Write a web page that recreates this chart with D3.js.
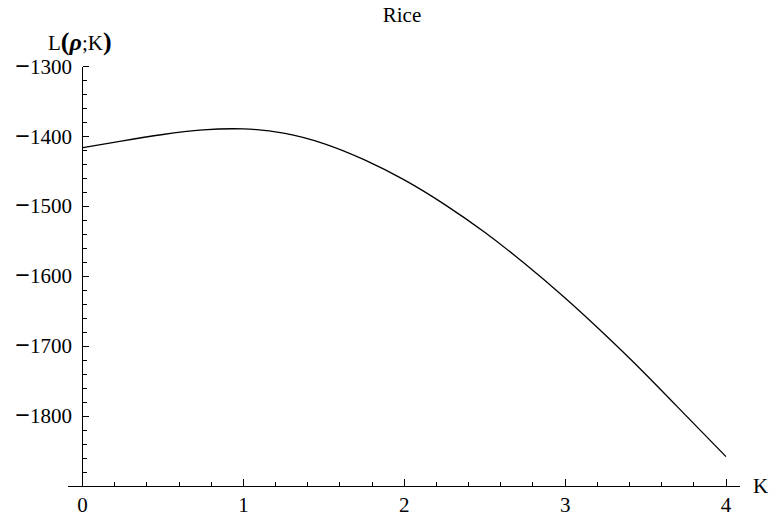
<!DOCTYPE html>
<html>
<head>
<meta charset="utf-8">
<script src="https://cdn.jsdelivr.net/npm/d3@7"></script>
<style>
    body { margin: 0; background: #fff; }
</style>
</head>
<body>
<div id="chart"></div>
<script>
// Data
const kValues = [0, 0.25, 0.5, 0.75, 1, 1.25, 1.5, 1.75, 2, 2.25, 2.5, 2.75, 3, 3.25, 3.5, 3.75, 4];
const logLik = [-1416, -1406, -1397, -1390.5, -1389, -1395, -1410, -1433, -1462, -1497, -1537, -1582, -1631, -1684, -1740, -1799, -1858];
const xTicks = [0, 1, 2, 3, 4];
const yTicks = [-1300, -1400, -1500, -1600, -1700, -1800];

const width = 769;
const height = 518;
const serif = '"Liberation Serif", "Times New Roman", "DejaVu Serif", serif';
const fontSize = 21;

const svg = d3.select('#chart')
    .append('svg')
    .attr('width', width)
    .attr('height', height)
    .style('display', 'block')
    .attr('font-family', serif);

// Scales
const x = d3.scaleLinear().domain([0, 4]).range([82.5, 726]);
const y = d3.scaleLinear().domain([-1900, -1300]).range([486, 66.7]);

// Minor ticks
const xMinor = d3.range(0, 4.001, 0.2).filter(v => Math.abs(v - Math.round(v)) > 1e-6);
const yMinor = d3.range(-1880, -1300, 20).filter(v => v % 100 !== 0);

const axes = svg.append('g')
    .attr('stroke', '#000')
    .attr('stroke-width', 1)
    .attr('shape-rendering', 'crispEdges');

// x axis line
axes.append('line')
    .attr('x1', 68).attr('x2', 740)
    .attr('y1', y(-1900)).attr('y2', y(-1900));

// y axis line
axes.append('line')
    .attr('x1', x(0)).attr('x2', x(0))
    .attr('y1', y(-1300)).attr('y2', y(-1900));

// x ticks (pointing up)
axes.selectAll('.xmaj')
    .data(xTicks)
    .enter()
    .append('line')
    .attr('x1', d => x(d)).attr('x2', d => x(d))
    .attr('y1', y(-1900)).attr('y2', y(-1900) - 7);

axes.selectAll('.xmin')
    .data(xMinor)
    .enter()
    .append('line')
    .attr('x1', d => x(d)).attr('x2', d => x(d))
    .attr('y1', y(-1900)).attr('y2', y(-1900) - 4);

// y ticks (pointing right)
axes.selectAll('.ymaj')
    .data(yTicks)
    .enter()
    .append('line')
    .attr('x1', x(0)).attr('x2', x(0) + 6)
    .attr('y1', d => y(d)).attr('y2', d => y(d));

axes.selectAll('.ymin')
    .data(yMinor)
    .enter()
    .append('line')
    .attr('x1', x(0)).attr('x2', x(0) + 4)
    .attr('y1', d => y(d)).attr('y2', d => y(d));

// Tick labels
svg.selectAll('.xlab')
    .data(xTicks)
    .enter()
    .append('text')
    .attr('x', d => x(d))
    .attr('y', 512)
    .attr('text-anchor', 'middle')
    .attr('font-size', fontSize)
    .text(d => d);

const yLab = svg.selectAll('.ylab')
    .data(yTicks)
    .enter()
    .append('text')
    .attr('x', 72)
    .attr('y', d => y(d) + 7)
    .attr('text-anchor', 'end')
    .attr('font-size', fontSize);

// long bold minus like the original
yLab.append('tspan')
    .attr('font-weight', 'bold')
    .attr('font-size', 26)
    .attr('dy', 1)
    .text('\u2212');
yLab.append('tspan')
    .attr('dy', -1)
    .text(d => Math.abs(d));

// Curve
const line = d3.line()
    .x((d, i) => x(kValues[i]))
    .y(d => y(d))
    .curve(d3.curveNatural);

svg.append('path')
    .datum(logLik)
    .attr('fill', 'none')
    .attr('stroke', '#000')
    .attr('stroke-width', 1.3)
    .attr('d', line);

// Title
svg.append('text')
    .attr('x', 402)
    .attr('y', 22)
    .attr('text-anchor', 'middle')
    .attr('font-size', fontSize)
    .text('Rice');

// Axis labels
const yTitle = svg.append('text')
    .attr('x', 48)
    .attr('y', 50)
    .attr('font-size', fontSize);
yTitle.append('tspan').text('L');
yTitle.append('tspan').attr('font-weight', 'bold').attr('font-size', 26).text('(');
yTitle.append('tspan').attr('font-weight', 'bold').attr('font-style', 'italic').attr('font-size', 24).text('\u03C1');
yTitle.append('tspan').text(';K');
yTitle.append('tspan').attr('font-weight', 'bold').attr('font-size', 26).text(')');

svg.append('text')
    .attr('x', 753)
    .attr('y', 493)
    .attr('font-size', fontSize)
    .text('K');
</script>
</body>
</html>
